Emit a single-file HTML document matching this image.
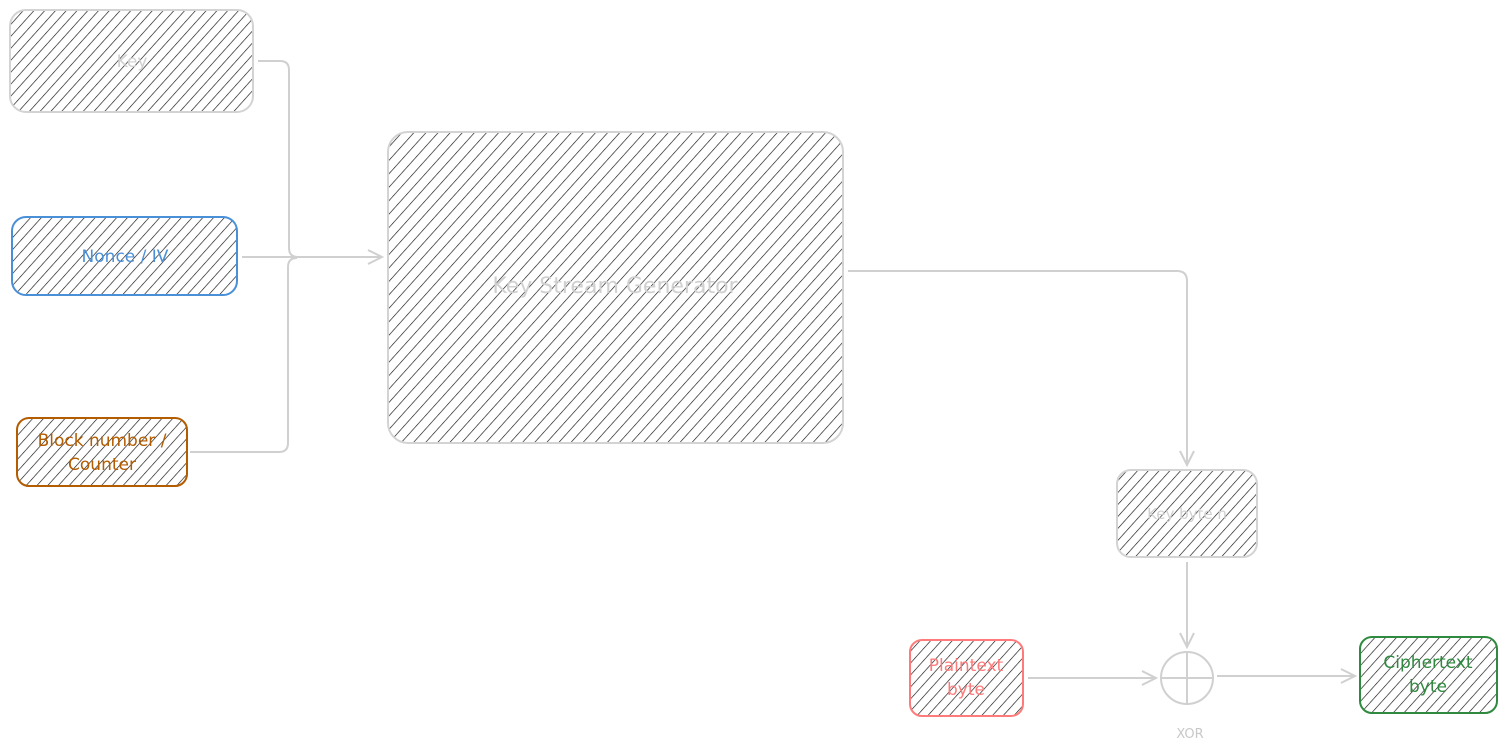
<!DOCTYPE html>
<html><head><meta charset="utf-8"><style>
html,body{margin:0;padding:0;background:#fff;}
svg{display:block;}
text{font-family:"Comic Sans MS","DejaVu Sans",sans-serif;}
</style></head><body>
<svg width="1507" height="754" viewBox="0 0 1507 754" xmlns="http://www.w3.org/2000/svg">
<defs>
<pattern id="h" patternUnits="userSpaceOnUse" width="8" height="8" patternTransform="rotate(42)">
<line x1="0" y1="0" x2="0" y2="8" stroke="#111" stroke-width="1.3"/>
</pattern>
<pattern id="hb" patternUnits="userSpaceOnUse" width="9" height="9" patternTransform="rotate(42)">
<line x1="0" y1="0" x2="0" y2="9" stroke="#111" stroke-width="1.3"/>
</pattern>
<marker id="a" markerWidth="18" markerHeight="18" refX="15" refY="9" orient="auto" markerUnits="userSpaceOnUse">
<path d="M1,2 L15,9 L1,16" fill="none" stroke="#d0d0d0" stroke-width="2"/>
</marker>
</defs>
<g stroke-width="2" fill="url(#h)">
<rect x="10" y="10" width="243" height="102" rx="16" stroke="#d3d3d3"/>
<rect x="12" y="217" width="225" height="78" rx="14" stroke="#4a90d9"/>
<rect x="17" y="418" width="170" height="68" rx="12" stroke="#b35c00"/>
<rect x="388" y="132" width="455" height="311" rx="20" stroke="#d3d3d3" fill="url(#hb)"/>
<rect x="1117" y="470" width="140" height="87" rx="14" stroke="#d3d3d3"/>
<rect x="910" y="640" width="113" height="76" rx="12" stroke="#ff7b7b"/>
<rect x="1360" y="637" width="137" height="76" rx="12" stroke="#2f8a3f"/>
</g>
<g fill="none" stroke="#d0d0d0" stroke-width="2">
<path d="M258,61 H280 Q289,61 289,70 V248 Q289,257 298,257"/>
<path d="M242,257 H382" marker-end="url(#a)"/>
<path d="M190,452 H279 Q288,452 288,443 V267 Q288,258 297,258"/>
<path d="M848,271 H1177 Q1187,271 1187,281 V465" marker-end="url(#a)"/>
<path d="M1187,562 V647" marker-end="url(#a)"/>
<path d="M1028,678 H1156" marker-end="url(#a)"/>
<path d="M1217,676 H1355" marker-end="url(#a)"/>
<circle cx="1187" cy="678" r="26"/>
<path d="M1161,678 H1213 M1187,652 V704"/>
</g>
<g text-anchor="middle" font-size="17">
<text x="132" y="67" fill="#d0d0d0">Key</text>
<text x="125" y="262" fill="#4a90d9">Nonce / IV</text>
<text x="102" y="446" fill="#b35c00">Block number /</text>
<text x="102" y="470" fill="#b35c00">Counter</text>
<text x="615" y="293" fill="#d0d0d0" font-size="22">Key Stream Generator</text>
<text x="1187" y="519" fill="#d0d0d0" font-size="15">Key byte n</text>
<text x="966" y="671" fill="#ff7b7b">Plaintext</text>
<text x="966" y="695" fill="#ff7b7b">byte</text>
<text x="1428" y="668" fill="#2f8a3f">Ciphertext</text>
<text x="1428" y="692" fill="#2f8a3f">byte</text>
<text x="1190" y="738" fill="#c8c8c8" font-size="13">XOR</text>
</g>
</svg>
</body></html>
